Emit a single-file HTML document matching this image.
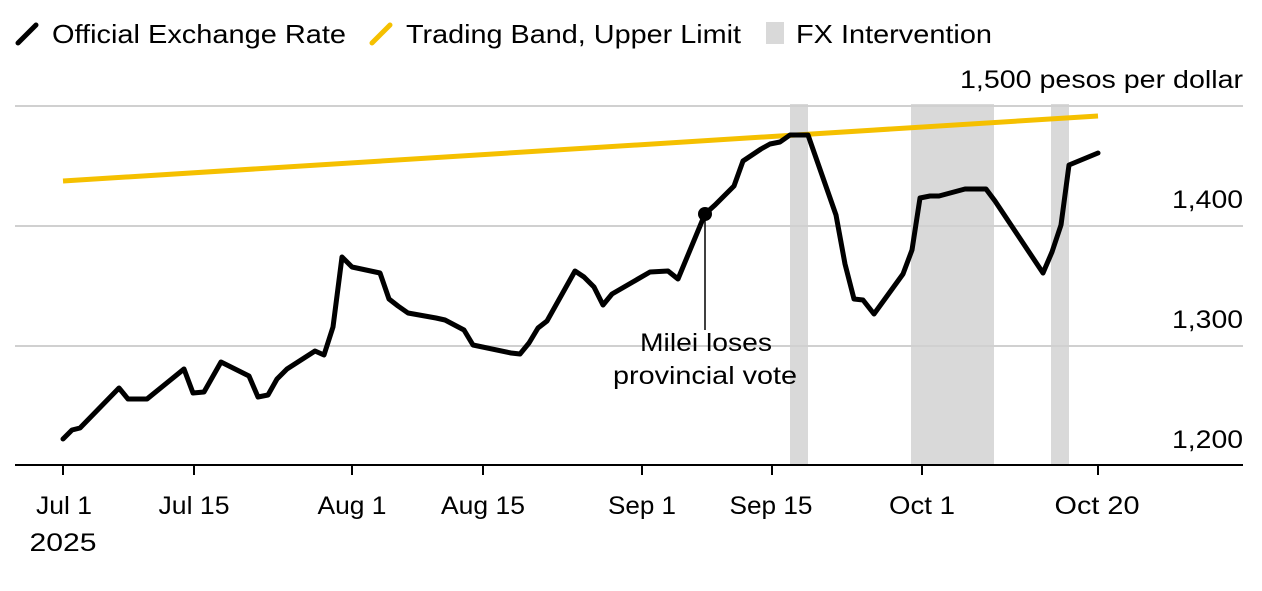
<!DOCTYPE html>
<html><head><meta charset="utf-8"><style>
body{margin:0;background:#fff;}
svg text{font-family:"Liberation Sans",Arial,sans-serif;fill:#000;}
</style></head><body>
<svg width="1262" height="586" viewBox="0 0 1262 586" xmlns="http://www.w3.org/2000/svg">
<rect width="1262" height="586" fill="#fff"/>
<line x1="18" y1="43" x2="36" y2="25" stroke="#000" stroke-width="5" stroke-linecap="round"/>
<text x="52" y="43" font-size="26" textLength="294" lengthAdjust="spacingAndGlyphs">Official Exchange Rate</text>
<line x1="372" y1="43" x2="390" y2="25" stroke="#f5c000" stroke-width="5" stroke-linecap="round"/>
<text x="406" y="43" font-size="26" textLength="335" lengthAdjust="spacingAndGlyphs">Trading Band, Upper Limit</text>
<rect x="766" y="22" width="18" height="22" fill="#d9d9d9"/>
<text x="796" y="43" font-size="26" textLength="196" lengthAdjust="spacingAndGlyphs">FX Intervention</text>
<rect x="790" y="104" width="18" height="361" fill="#d9d9d9"/>
<rect x="911" y="104" width="83" height="361" fill="#d9d9d9"/>
<rect x="1051" y="104" width="18" height="361" fill="#d9d9d9"/>
<g stroke="#d0d0d0" stroke-width="2">
<line x1="15" y1="106" x2="1243" y2="106"/>
<line x1="15" y1="226" x2="1243" y2="226"/>
<line x1="15" y1="346" x2="1243" y2="346"/>
</g>
<line x1="15" y1="465" x2="1243" y2="465" stroke="#000" stroke-width="2"/>
<g stroke="#000" stroke-width="2">
<line x1="63" y1="465" x2="63" y2="475"/><line x1="194" y1="465" x2="194" y2="475"/>
<line x1="352" y1="465" x2="352" y2="475"/><line x1="483" y1="465" x2="483" y2="475"/>
<line x1="642" y1="465" x2="642" y2="475"/><line x1="772" y1="465" x2="772" y2="475"/>
<line x1="922" y1="465" x2="922" y2="475"/><line x1="1098" y1="465" x2="1098" y2="475"/>
</g>
<g font-size="25" text-anchor="middle">
<text x="64" y="514" textLength="56" lengthAdjust="spacingAndGlyphs">Jul 1</text>
<text x="63" y="551" textLength="67" lengthAdjust="spacingAndGlyphs">2025</text>
<text x="194" y="514" textLength="71" lengthAdjust="spacingAndGlyphs">Jul 15</text>
<text x="352" y="514" textLength="69" lengthAdjust="spacingAndGlyphs">Aug 1</text>
<text x="483" y="514" textLength="84" lengthAdjust="spacingAndGlyphs">Aug 15</text>
<text x="642" y="514" textLength="68" lengthAdjust="spacingAndGlyphs">Sep 1</text>
<text x="771" y="514" textLength="83" lengthAdjust="spacingAndGlyphs">Sep 15</text>
<text x="922" y="514" textLength="66" lengthAdjust="spacingAndGlyphs">Oct 1</text>
<text x="1097" y="514" textLength="85" lengthAdjust="spacingAndGlyphs">Oct 20</text>
</g>
<g font-size="25">
<text x="960" y="88" textLength="283" lengthAdjust="spacingAndGlyphs">1,500 pesos per dollar</text>
<text x="1172" y="208" textLength="71" lengthAdjust="spacingAndGlyphs">1,400</text>
<text x="1172" y="328" textLength="71" lengthAdjust="spacingAndGlyphs">1,300</text>
<text x="1172" y="448" textLength="71" lengthAdjust="spacingAndGlyphs">1,200</text>
</g>
<line x1="63" y1="181" x2="1098" y2="116" stroke="#f5c000" stroke-width="5"/>
<line x1="705" y1="214" x2="705" y2="330" stroke="#000" stroke-width="1.5"/>
<text x="640" y="351" font-size="25" textLength="132" lengthAdjust="spacingAndGlyphs">Milei loses</text>
<text x="613" y="384" font-size="25" textLength="184" lengthAdjust="spacingAndGlyphs">provincial vote</text>
<polyline fill="none" stroke="#000" stroke-width="5" stroke-linejoin="round" stroke-linecap="round" points="63,439 72,430 80,428 119,388 128,399 147,399 184,369 193,393 204,392 221,362 249,376 258,397 268,395 277,379 287,369 315,351 324,355 333,327 342,257 352,267 380,273 389,299 398,306 408,313 436,318 445,320 464,330 473,345 511,353 520,354 529,343 538,328 547,321 575,271 584,277 594,287 603,305 612,294 650,272 668,271 678,279 705,214 715,205 724,196 734,186 743,161 752,155 761,149 770,144 780,142 790,135 808,135 836,215 845,264 854,299 863,300 874,314 903,274 912,250 920,198 930,196 939,196 965,189 976,189 986,189 995,201 1043,273 1052,252 1061,225 1069,165 1098,153"/>
<circle cx="705" cy="214" r="7" fill="#000"/>
</svg>
</body></html>
